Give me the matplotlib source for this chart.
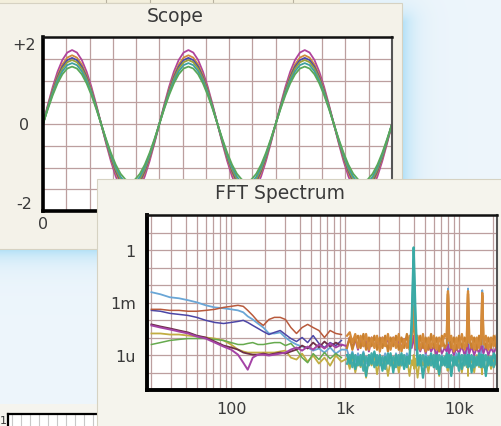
import numpy as np
import matplotlib
matplotlib.use("Agg")
import matplotlib.pyplot as plt
from matplotlib.patches import Rectangle

plt.rcParams['font.family'] = ['DejaVu Sans']

W, H = 502, 427

# ---------------- Scope data ----------------
scope_colors = ['#b0449c', '#d08a3c', '#4a4aa8', '#9aa03a', '#3f9fa0', '#5aa85a']
scope_amplitudes = [1.70, 1.58, 1.52, 1.47, 1.40, 1.32]
scope_period_ms = 0.25
scope_cycles = 3
# one cycle of the displayed waveform (normalised), 24 samples
cycle_shape = [0.0, 0.259, 0.5, 0.707, 0.866, 0.966, 1.0, 0.966, 0.866, 0.707, 0.5, 0.259,
               0.0, -0.259, -0.5, -0.707, -0.866, -0.966, -1.0, -0.966, -0.866, -0.707, -0.5, -0.259]
scope_ytick_labels = ['+2', '0', '-2']

# ---------------- FFT data (log10 magnitude) ----------------
low_freqs = [20, 24, 29, 35, 42, 50, 60, 72, 86, 100, 115, 128, 140, 155, 172, 192, 215,
             240, 270, 300, 335, 375, 420, 470, 525, 590, 660, 740, 830, 930]
high_freqs = [1040, 1100, 1160, 1230, 1300, 1370, 1450, 1530, 1620, 1710,
              1810, 1910, 2020, 2130, 2250, 2380, 2510, 2650, 2800, 2960,
              3130, 3300, 3490, 3680, 3850, 3950, 4000, 4050, 4150, 4330,
              4570, 4830, 5100, 5390, 5690, 6010, 6350, 6700, 7080, 7480,
              7800, 7950, 8000, 8050, 8200, 8550, 9000, 9500, 10000, 10600,
              11200, 11700, 11950, 12000, 12050, 12300, 12900, 13600, 14300, 15000,
              15600, 15950, 16000, 16050, 16400, 17200, 18100, 19100, 20200, 21300]

lightblue_low = [-2.41, -2.53, -2.70, -2.76, -2.87, -2.99, -3.16, -3.28, -3.33, -3.39,
                 -3.45, -3.56, -3.79, -3.97, -4.20, -4.43, -4.77, -4.77, -4.71, -5.00,
                 -5.23, -5.40, -5.52, -5.57, -5.75, -5.63, -5.86, -5.57, -5.92, -5.69]
lightblue_high = [-5.7, -6.2, -5.8, -6.4, -5.9, -6.3, -5.8, -6.5, -6.0, -6.3,
                  -5.9, -6.4, -6.0, -6.5, -5.9, -6.3, -6.0, -6.6, -5.9, -6.3,
                  -6.0, -6.5, -5.9, -6.3, -4.5, -2.0, -0.5, -2.2, -4.8, -6.3,
                  -6.0, -6.6, -5.9, -6.4, -6.0, -6.5, -5.9, -6.3, -6.0, -6.5,
                  -6.0, -3.0, -2.2, -3.0, -6.2, -6.2, -6.5, -5.9, -6.3, -6.0,
                  -6.5, -6.0, -3.0, -2.2, -3.0, -6.3, -6.4, -6.0, -6.5, -5.9,
                  -6.0, -3.1, -2.3, -3.1, -6.2, -6.3, -6.0, -6.5, -5.9, -6.3]
redbrown_low = [-3.39, -3.39, -3.45, -3.45, -3.50, -3.50, -3.45, -3.39, -3.28, -3.22,
                -3.16, -3.22, -3.45, -3.74, -4.08, -4.31, -3.97, -3.85, -3.85, -3.97,
                -4.43, -4.77, -4.43, -4.25, -4.43, -4.60, -5.00, -4.60, -4.77, -4.83]
orange_high = [-4.9, -4.7, -5.3, -4.8, -5.6, -4.9, -5.5, -4.8, -5.7, -5.0,
               -5.6, -4.9, -5.8, -5.0, -5.5, -4.8, -5.7, -5.0, -5.6, -4.8,
               -5.8, -5.1, -5.6, -4.9, -5.0, -3.2, -3.4, -4.2, -5.6, -4.9,
               -5.7, -4.8, -5.8, -5.0, -5.6, -4.9, -5.7, -5.0, -5.5, -4.8,
               -5.0, -2.6, -2.35, -2.6, -5.2, -4.9, -5.8, -5.0, -5.6, -4.8,
               -5.7, -5.1, -2.5, -2.35, -2.6, -5.3, -4.9, -5.7, -5.0, -5.6,
               -5.0, -2.7, -2.45, -2.7, -5.4, -4.9, -5.7, -5.0, -5.5, -4.9]
orange2_high = [-5.6, -5.0, -5.7, -5.1, -4.9, -5.6, -4.8, -5.7, -5.0, -5.5,
                -4.9, -5.7, -5.0, -5.6, -4.9, -5.8, -5.0, -5.5, -4.9, -5.7,
                -5.0, -5.6, -4.8, -5.7, -5.2, -3.6, -3.3, -4.6, -5.0, -5.7,
                -4.9, -5.6, -5.0, -5.7, -4.8, -5.6, -5.0, -5.8, -4.9, -5.6,
                -5.4, -2.8, -2.5, -2.8, -5.0, -5.6, -5.0, -5.7, -4.9, -5.6,
                -5.0, -5.5, -2.7, -2.5, -2.8, -5.0, -5.6, -5.0, -5.7, -4.9,
                -5.4, -2.9, -2.6, -2.9, -5.0, -5.6, -5.0, -5.6, -4.9, -5.6]
indigo_low = [-3.45, -3.50, -3.62, -3.68, -3.74, -3.85, -4.02, -4.14, -4.20, -4.14,
              -4.08, -4.02, -4.14, -4.31, -4.48, -4.66, -4.83, -4.71, -4.60, -4.83,
              -5.06, -5.23, -5.00, -5.29, -4.89, -5.34, -5.57, -5.29, -5.46, -5.17]
maroon_low = [-4.25, -4.37, -4.48, -4.60, -4.71, -4.89, -5.00, -5.23, -5.46, -5.57,
              -5.69, -5.86, -5.92, -5.98, -5.98, -5.92, -5.98, -5.92, -5.86, -5.92,
              -5.80, -5.69, -5.46, -5.63, -5.29, -5.57, -5.23, -5.52, -5.29, -5.46]
violet_low = [-4.31, -4.43, -4.54, -4.66, -4.77, -4.94, -5.06, -5.29, -5.52, -5.69,
              -5.98, -6.44, -6.84, -6.15, -5.98, -5.98, -6.03, -5.98, -5.92, -5.86,
              -5.69, -5.57, -5.75, -5.52, -5.69, -5.40, -5.63, -5.34, -5.57, -5.40]
violet_high = [-5.5, -5.0, -5.6, -5.1, -5.7, -5.0, -5.5, -5.2, -5.8, -5.0,
               -5.5, -5.1, -5.6, -5.0, -5.4, -5.1, -5.6, -5.0, -5.5, -5.2,
               -5.6, -5.1, -5.5, -5.2, -5.6, -5.0, -4.9, -5.3, -5.7, -5.2,
               -5.8, -5.3, -5.9, -5.4, -5.8, -5.5, -6.0, -5.5, -5.9, -5.6,
               -5.8, -5.5, -5.4, -5.6, -5.9, -5.5, -6.0, -5.6, -5.9, -5.5,
               -6.0, -5.6, -5.5, -5.4, -5.6, -5.9, -5.5, -6.0, -5.6, -5.9,
               -5.5, -5.6, -5.5, -5.7, -5.9, -5.5, -6.0, -5.6, -5.9, -5.5]
olive_low = [-4.77, -4.77, -4.83, -4.83, -4.89, -4.94, -5.00, -5.06, -5.17, -5.40,
             -5.69, -5.80, -5.86, -5.86, -5.86, -5.86, -5.86, -5.86, -5.80, -5.75,
             -6.15, -6.26, -5.92, -6.38, -6.03, -6.49, -6.15, -6.61, -6.03, -6.38]
olive_high = [-6.2, -6.8, -6.0, -7.0, -6.3, -6.7, -6.1, -7.3, -6.2, -6.6,
              -6.0, -7.1, -6.2, -6.7, -6.1, -7.2, -6.3, -6.6, -6.0, -7.0,
              -6.2, -6.7, -6.1, -7.2, -6.3, -6.6, -6.0, -6.8, -6.2, -7.3,
              -6.1, -6.6, -6.2, -7.0, -6.0, -6.7, -6.3, -7.2, -6.1, -6.6,
              -6.2, -6.9, -6.0, -6.7, -6.3, -7.1, -6.1, -6.6, -6.2, -7.0,
              -6.0, -6.7, -6.3, -7.2, -6.1, -6.6, -6.2, -7.0, -6.0, -6.7,
              -6.3, -7.1, -6.1, -6.6, -6.2, -7.0, -6.0, -6.8, -6.3, -6.6]
green_low = [-5.40, -5.29, -5.17, -5.11, -5.06, -5.06, -5.06, -5.11, -5.17, -5.29,
             -5.40, -5.40, -5.34, -5.29, -5.40, -5.40, -5.34, -5.29, -5.29, -5.46,
             -5.34, -5.69, -6.15, -6.44, -5.92, -6.26, -5.86, -6.21, -5.92, -6.15]
teal_high = [-6.0, -6.5, -5.9, -6.8, -6.1, -6.6, -5.9, -7.2, -6.0, -6.5,
             -5.8, -6.6, -6.0, -6.9, -6.1, -6.5, -5.9, -7.0, -6.0, -6.6,
             -5.9, -6.8, -6.1, -6.5, -3.8, -1.2, 0.15, -1.0, -3.5, -6.6,
             -6.0, -7.3, -6.1, -6.6, -5.9, -6.7, -6.0, -7.1, -6.1, -6.6,
             -5.9, -6.5, -6.0, -6.7, -6.0, -7.2, -6.1, -6.6, -5.9, -6.8,
             -6.0, -6.5, -6.0, -6.2, -6.7, -6.0, -7.0, -6.1, -6.6, -5.9,
             -6.7, -6.0, -6.3, -6.6, -6.0, -7.2, -6.1, -6.6, -5.9, -6.5]
teal2_high = [-6.5, -6.0, -6.7, -6.0, -6.6, -6.0, -6.9, -6.1, -6.6, -5.9,
              -6.7, -6.0, -6.6, -6.1, -6.8, -5.9, -6.6, -6.1, -6.7, -6.0,
              -6.6, -6.0, -6.7, -6.0, -4.5, -2.0, -0.6, -1.8, -4.4, -6.0,
              -6.6, -6.0, -6.7, -6.1, -6.6, -6.0, -6.8, -6.0, -6.6, -6.1,
              -6.7, -6.0, -6.6, -6.1, -6.7, -6.0, -6.6, -6.1, -6.9, -6.0,
              -6.6, -6.1, -6.7, -6.0, -6.1, -6.6, -6.0, -6.7, -6.1, -6.6,
              -6.0, -6.6, -6.0, -6.1, -6.7, -6.0, -6.6, -6.1, -6.7, -6.0]

fft_xticks = [100, 1000, 10000]
fft_xtick_labels = ['100', '1k', '10k']
fft_yticks = [1, 1e-3, 1e-6]
fft_ytick_labels = ['1', '1m', '1u']

GRID = '#bc9f9f'
TXT = '#3a3a3a'


def frac(x0, y0, x1, y1):
    return [x0 / W, 1 - y1 / H, (x1 - x0) / W, (y1 - y0) / H]


fig = plt.figure(figsize=(W / 100, H / 100), dpi=100)

# ---------------- background ----------------
bg = fig.add_axes([0, 0, 1, 1], zorder=0)
bg.set_xlim(0, W)
bg.set_ylim(H, 0)
bg.axis('off')
yy, xx = np.mgrid[0:H, 0:W] + 0.5
dx = np.maximum(xx - 402, 0)
dy = np.maximum(np.maximum(yy - 250, 24 - yy), 0)
d = np.hypot(dx, dy)
g = np.exp(-d / 11.0) * 0.85
base = np.array([0.93, 0.962, 0.985])
cyan = np.array([0.64, 0.86, 0.965])
img = base[None, None, :] * (1 - g[..., None]) + cyan[None, None, :] * g[..., None]
bg.imshow(img, extent=(0, W, H, 0), interpolation='bilinear', aspect='auto', zorder=0)

# top strip of another window
bg.add_patch(Rectangle((0, -2), 340, 7, fc='#f3efdc', ec='none', zorder=1))
bg.add_patch(Rectangle((106, -6), 44, 10, fc='none', ec='#b8b2a0', lw=0.8, zorder=1))
bg.add_patch(Rectangle((213, -6), 80, 10, fc='none', ec='#b8b2a0', lw=0.8, zorder=1))
# scope window
bg.add_patch(Rectangle((-2, 4), 404, 246, fc='#f4f2e9', ec='#d6d2c2', lw=0.8, zorder=2))
bg.text(175, 17, 'Scope', ha='center', va='center', fontsize=13.5, color=TXT, zorder=3)
# bottom-left window fragment
bg.add_patch(Rectangle((0, 405), 98, 30, fc='#f5f4ee', ec='none', zorder=2))

# ---------------- Scope ----------------
sx = fig.add_axes(frac(43, 38, 392, 212), zorder=1)
sx.set_facecolor('white')
shape = np.array(cycle_shape * scope_cycles + [cycle_shape[0]])
t = np.arange(len(shape)) * (scope_period_ms / len(cycle_shape))
for amp, col in zip(scope_amplitudes, scope_colors):
    sx.plot(t, amp * shape, color=col, lw=1.3, solid_capstyle='round')
sx.set_xlim(0, scope_period_ms * scope_cycles)
sx.set_ylim(-2, 2)
sx.set_xticks(np.arange(0, 0.7501, 0.05))
sx.set_yticks(np.arange(-2, 2.01, 0.5))
sx.tick_params(length=0, labelbottom=False, labelleft=False)
sx.grid(True, color=GRID, lw=0.9)
sx.set_axisbelow(True)
for s, lw, c in [('left', 2.6, 'black'), ('bottom', 2.6, 'black'),
                 ('top', 1.8, '#111111'), ('right', 1.5, '#555555')]:
    sx.spines[s].set_linewidth(lw)
    sx.spines[s].set_color(c)
ytr = sx.get_yaxis_transform()
sx.text(-0.054, 2, scope_ytick_labels[0], transform=ytr, ha='center', va='top',
        fontsize=11.5, color=TXT)
sx.text(-0.054, 0, scope_ytick_labels[1], transform=ytr, ha='center', va='center',
        fontsize=11.5, color=TXT)
sx.text(-0.054, -2, scope_ytick_labels[2], transform=ytr, ha='center', va='bottom',
        fontsize=11.5, color=TXT)
sx.text(0, -2.12, '0', ha='center', va='top', fontsize=11.5, color=TXT, clip_on=False)

# bottom-left fragment axes
fr = fig.add_axes(frac(8, 415, 98, 440), zorder=1)
fr.set_facecolor('white')
fr.set_xlim(0, 10)
fr.set_ylim(0, 1)
fr.set_xticks(np.arange(0.5, 10, 1))
fr.set_yticks([])
fr.tick_params(length=0, labelbottom=False, labelleft=False)
fr.grid(True, axis='x', color='#c8c8c8', lw=0.8)
for s in ['right', 'bottom']:
    fr.spines[s].set_visible(False)
fr.spines['top'].set_linewidth(1.6)
fr.spines['left'].set_linewidth(1.6)
bg.text(3, 421, '1', ha='center', va='center', fontsize=8, color=TXT, zorder=3)

# ---------------- FFT window ----------------
ov = fig.add_axes([0, 0, 1, 1], zorder=2)
ov.set_xlim(0, W)
ov.set_ylim(H, 0)
ov.axis('off')
ov.patch.set_alpha(0)
ov.add_patch(Rectangle((97, 180), 410, 250, fc='#f5f4ed', ec='#d6d2c2', lw=0.8))
ov.text(280, 194, 'FFT Spectrum', ha='center', va='center', fontsize=13.5, color=TXT)

fx = fig.add_axes(frac(147, 216, 497, 391), zorder=3)
fx.set_facecolor('white')
fx.set_xscale('log')
fx.set_yscale('log')
fx.set_xlim(18.3, 21550)
fx.set_ylim(1e-8, 1e2)

lf = np.array(low_freqs, float)
hf = np.array(high_freqs, float)
series = [
    ('#6aa6d6', np.concatenate([lf, hf]), lightblue_low + lightblue_high, 1.3),
    ('#c2ad42', np.concatenate([lf, hf]), olive_low + olive_high, 1.3),
    ('#66aa4e', lf, green_low, 1.1),
    ('#4c46a6', lf, indigo_low, 1.1),
    ('#6e2f48', lf, maroon_low, 1.3),
    ('#a443a6', np.concatenate([lf, hf]), violet_low + violet_high, 1.4),
    ('#b85a3c', lf, redbrown_low, 1.1),
    ('#c9802e', hf, orange2_high, 1.6),
    ('#d48a3a', hf, orange_high, 1.6),
    ('#44aca8', hf, teal2_high, 1.6),
    ('#3aaaa5', hf, teal_high, 1.6),
]
for col, f, v, lw in series:
    fx.plot(f, 10 ** np.array(v), color=col, lw=lw)

fx.set_xticks(fft_xticks)
fx.set_xticklabels(fft_xtick_labels)
minor_x = [m * 10 ** e for e in range(1, 5) for m in range(2, 10) if 18 < m * 10 ** e < 21600]
fx.set_xticks(minor_x, minor=True)
fx.set_yticks(fft_yticks)
fx.set_yticklabels(fft_ytick_labels)
fx.set_yticks([10.0 ** e for e in range(-8, 3) if e not in (0, -3, -6)], minor=True)
fx.tick_params(which='both', length=0)
fx.tick_params(axis='y', pad=8, labelsize=11.5, labelcolor=TXT)
fx.tick_params(axis='x', pad=8, labelsize=11.5, labelcolor=TXT)
fx.yaxis.set_minor_formatter(matplotlib.ticker.NullFormatter())
fx.xaxis.set_minor_formatter(matplotlib.ticker.NullFormatter())
fx.grid(True, which='both', color=GRID, lw=0.9)
fx.set_axisbelow(True)
for s, lw, c in [('left', 2.8, 'black'), ('bottom', 2.8, 'black'),
                 ('top', 1.8, '#111111'), ('right', 1.5, '#555555')]:
    fx.spines[s].set_linewidth(lw)
    fx.spines[s].set_color(c)

fig.savefig('out.png', dpi=100)
